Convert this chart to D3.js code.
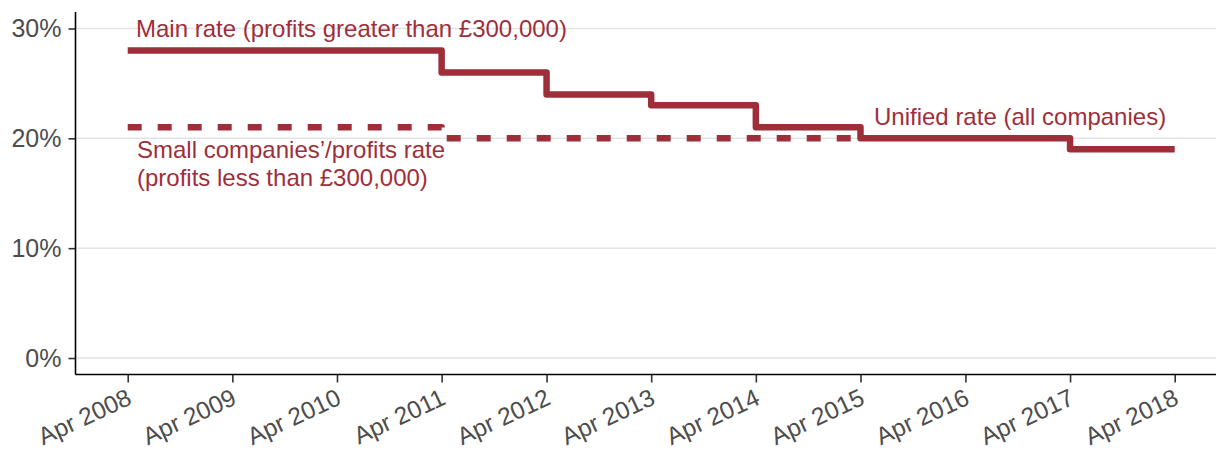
<!DOCTYPE html>
<html>
<head>
<meta charset="utf-8">
<script src="https://cdn.jsdelivr.net/npm/d3@7"></script>
<style>
  body { margin: 0; background: #fff; }
  svg { display: block; font-family: "Liberation Sans", Arial, sans-serif; }
</style>
</head>
<body>
<script>
// data
var mainDates = ["2008-04-01", "2011-04-01", "2012-04-01", "2013-04-01", "2014-04-01", "2015-04-01", "2017-04-01", "2018-04-01"];
var mainRates = [28, 26, 24, 23, 21, 20, 19, 19];
var smallDates = ["2008-04-01", "2011-04-01", "2015-04-01"];
var smallRates = [21, 20, 20];
var yTicks = [0, 10, 20, 30];
var tickYears = [2008, 2009, 2010, 2011, 2012, 2013, 2014, 2015, 2016, 2017, 2018];

var red = "#9e2f3a";
var width = 1216, height = 450;

var parse = d3.utcParse("%Y-%m-%d");
var mainData = mainDates.map(function (d, i) { return { date: parse(d), value: mainRates[i] }; });
var smallData = smallDates.map(function (d, i) { return { date: parse(d), value: smallRates[i] }; });

var svg = d3.select("body").append("svg")
  .attr("width", width)
  .attr("height", height);

var plotLeft = 75.5, plotTop = 12, plotBottom = 374.5, plotRight = 1216;

var x = d3.scaleUtc()
  .domain([parse("2008-04-01"), parse("2018-04-01")])
  .range([127.7, 1174.7]);

var y = d3.scaleLinear()
  .domain([-1.5, 31.5])
  .range([plotBottom, plotTop]);

// gridlines
svg.append("g")
  .selectAll("line")
  .data(yTicks)
  .enter()
  .append("line")
  .attr("x1", plotLeft)
  .attr("x2", plotRight)
  .attr("y1", function (d) { return y(d); })
  .attr("y2", function (d) { return y(d); })
  .style("stroke", "#e3e3e3")
  .style("stroke-width", 1.5);

// y axis
var yAxis = svg.append("g")
  .attr("transform", "translate(" + plotLeft + ",0)")
  .call(d3.axisLeft(y).tickValues(yTicks).tickSize(7).tickPadding(7)
    .tickFormat(function (d) { return d + "%"; }));
yAxis.select(".domain").remove();
yAxis.append("line")
  .attr("y1", plotTop).attr("y2", plotBottom)
  .style("stroke", "#000").style("stroke-width", 1.6);
yAxis.selectAll(".tick line").style("stroke", "#333").style("stroke-width", 1.6);
yAxis.selectAll(".tick text")
  .style("font-size", "25px")
  .style("fill", "#4d4d4d")
  .style("font-family", "'Liberation Sans', Arial, sans-serif");

// x axis
var xAxis = svg.append("g")
  .attr("transform", "translate(0," + plotBottom + ")")
  .call(d3.axisBottom(x)
    .tickValues(tickYears.map(function (yr) { return new Date(Date.UTC(yr, 3, 1)); }))
    .tickSize(8)
    .tickFormat(d3.utcFormat("Apr %Y")));
xAxis.select(".domain").remove();
xAxis.append("line")
  .attr("x1", plotLeft).attr("x2", plotRight)
  .style("stroke", "#000").style("stroke-width", 1.6);
xAxis.selectAll(".tick line").style("stroke", "#333").style("stroke-width", 1.6);
xAxis.selectAll(".tick text")
  .attr("y", 0)
  .attr("dy", 0)
  .attr("transform", "translate(5,29) rotate(-25)")
  .style("text-anchor", "end")
  .style("font-size", "24.5px")
  .style("fill", "#4d4d4d")
  .style("font-family", "'Liberation Sans', Arial, sans-serif");

// lines
var line = d3.line()
  .curve(d3.curveStepAfter)
  .x(function (d) { return x(d.date); })
  .y(function (d) { return y(d.value); });

svg.append("path")
  .datum(smallData)
  .attr("d", line)
  .style("fill", "none")
  .style("stroke", red)
  .style("stroke-width", 6.5)
  .style("stroke-dasharray", "14,16")
  .style("stroke-linejoin", "round");

svg.append("path")
  .datum(mainData)
  .attr("d", line)
  .style("fill", "none")
  .style("stroke", red)
  .style("stroke-width", 6.5)
  .style("stroke-linejoin", "round");

// annotations
function label(tx, ty, lines) {
  var t = svg.append("text")
    .attr("x", tx)
    .attr("y", ty)
    .style("font-size", "24px")
    .style("fill", red);
  lines.forEach(function (s, i) {
    t.append("tspan").attr("x", tx).attr("dy", i === 0 ? 0 : 28).text(s);
  });
}
label(136, 37, ["Main rate (profits greater than £300,000)"]);
label(137, 158, ["Small companies’/profits rate", "(profits less than £300,000)"]);
label(874, 125, ["Unified rate (all companies)"]);
</script>
</body>
</html>
